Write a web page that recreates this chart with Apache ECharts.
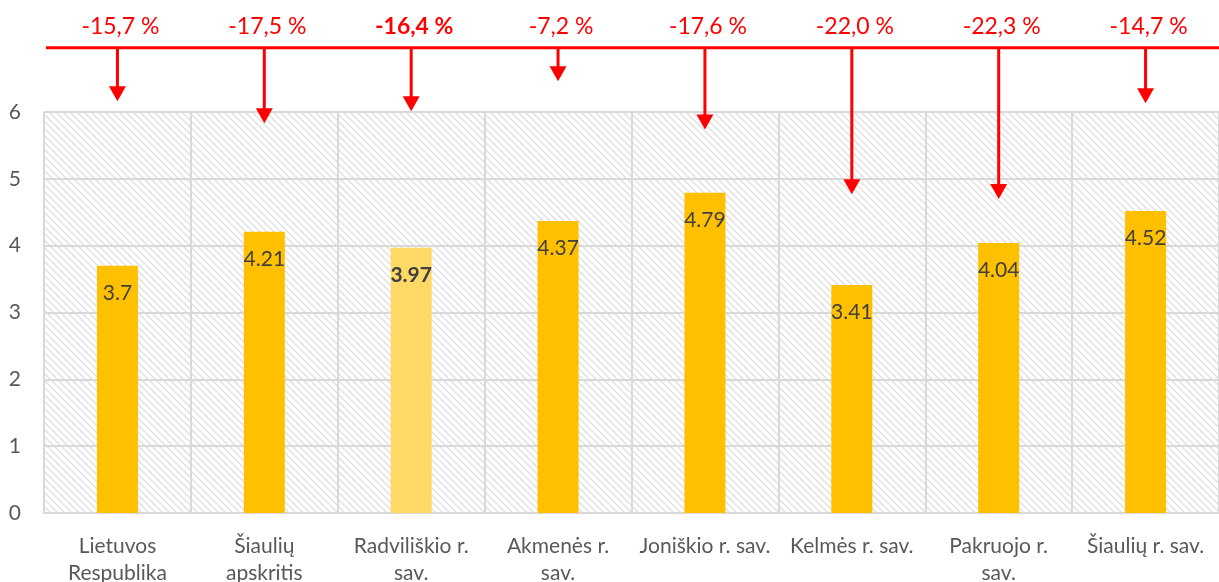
<!DOCTYPE html>
<html><head><meta charset="utf-8">
<script src="https://cdn.jsdelivr.net/npm/echarts@6/dist/echarts.min.js"></script>
<style>html,body{margin:0;padding:0;background:#fff}#c{width:1219px;height:582px}</style>
</head><body><div id="c"></div>
<script>
const categories = ['Lietuvos\nRespublika', 'Šiaulių\napskritis', 'Radviliškio r.\nsav.', 'Akmenės r.\nsav.', 'Joniškio r. sav.', 'Kelmės r. sav.', 'Pakruojo r.\nsav.', 'Šiaulių r. sav.'];
const values = [3.7, 4.21, 3.97, 4.37, 4.79, 3.41, 4.04, 4.52];
const changeLabels = ['-15,7 %', '-17,5 %', '-16,4 %', '-7,2 %', '-17,6 %', '-22,0 %', '-22,3 %', '-14,7 %'];
const arrowTips = [6.16, 5.83, 6.01, 6.46, 5.74, 4.77, 4.7, 6.13];
const arrowBase = 6.96;
const highlightIndex = 2;
const yMin = 0, yMax = 6, yInterval = 1;

const FONT = 'Lato';
const RED = '#ff0000';

// hatch pattern
const pc = document.createElement('canvas');
pc.width = 7; pc.height = 7;
const pctx = pc.getContext('2d');
pctx.fillStyle = '#ffffff';
pctx.fillRect(0, 0, 7, 7);
pctx.strokeStyle = '#dedede';
pctx.lineWidth = 1.3;
pctx.beginPath();
pctx.moveTo(-1, -1); pctx.lineTo(8, 8);
pctx.moveTo(-8, -1); pctx.lineTo(1, 8);
pctx.moveTo(6, -1); pctx.lineTo(15, 8);
pctx.stroke();

const chart = echarts.init(document.getElementById('c'), null, {renderer: 'canvas'});

chart.setOption({
  animation: false,
  grid: {
    left: 44, right: 0, top: 112, bottom: 69,
    outerBoundsMode: 'none', containLabel: false,
    show: true, backgroundColor: {image: pc, repeat: 'repeat'}, borderWidth: 0
  },
  xAxis: {
    type: 'category',
    data: categories,
    axisLine: {show: true, lineStyle: {color: '#d9d9d9', width: 2}},
    axisTick: {show: false},
    splitLine: {show: true, lineStyle: {color: '#d9d9d9', width: 2}},
    axisLabel: {fontFamily: FONT, fontSize: 21, color: '#595959', lineHeight: 27, margin: 20, interval: 0}
  },
  yAxis: {
    type: 'value',
    min: yMin, max: yMax, interval: yInterval,
    axisLine: {show: false},
    axisTick: {show: false},
    splitLine: {show: true, lineStyle: {color: '#d9d9d9', width: 2}},
    axisLabel: {fontFamily: FONT, fontSize: 21, color: '#595959', margin: 23}
  },
  series: [
    {
      type: 'bar',
      barWidth: 41,
      data: values.map((v, i) => ({
        value: v,
        itemStyle: {color: i === highlightIndex ? '#ffd966' : '#ffc000'},
        label: i === highlightIndex ? {fontWeight: 'bold'} : undefined
      })),
      label: {
        show: true, position: 'insideTop', distance: 17,
        fontFamily: FONT, fontSize: 21, color: '#404040'
      },
      z: 3
    },
    {
      type: 'custom',
      clip: false,
      z: 5,
      data: arrowTips.map((t, i) => [i, t]),
      renderItem: function (params, api) {
        const i = api.value(0);
        const base = api.coord([i, arrowBase]);
        const tip = api.coord([i, api.value(1)]);
        const cs = params.coordSys;
        const headH = 15, headW = 17;
        const children = [
          {type: 'line', shape: {x1: base[0], y1: base[1], x2: tip[0], y2: tip[1] - headH + 1},
           style: {stroke: RED, lineWidth: 3}},
          {type: 'polygon', shape: {points: [[tip[0] - headW / 2, tip[1] - headH], [tip[0] + headW / 2, tip[1] - headH], [tip[0], tip[1]]]},
           style: {fill: RED}},
          {type: 'text', x: base[0] + 3, y: base[1] - 21,
           style: {text: changeLabels[i], fill: RED, font: (i === highlightIndex ? 'bold ' : '') + '23px ' + FONT,
                   textAlign: 'center', textVerticalAlign: 'middle'}}
        ];
        if (i === 0) {
          children.push({type: 'line', shape: {x1: cs.x + 2, y1: base[1], x2: cs.x + cs.width, y2: base[1]},
            style: {stroke: RED, lineWidth: 3}});
        }
        return {type: 'group', children: children};
      }
    }
  ]
});
</script>
</body></html>
